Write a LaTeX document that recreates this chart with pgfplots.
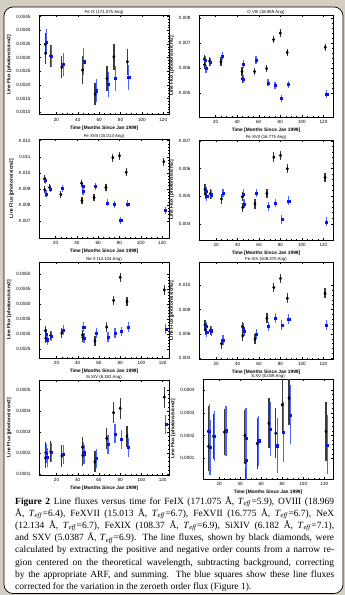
\documentclass[border=0pt]{standalone}
\usepackage{fontspec}
\setmainfont{Liberation Serif}
\newfontfamily\hv{Liberation Sans}
\usepackage{pgfplots}
\pgfplotsset{compat=1.18}
\definecolor{bgc}{HTML}{D4CEC2}
\definecolor{bbar}{HTML}{3A3A3A}
\definecolor{ubar}{HTML}{4A66FF}
\definecolor{umk}{HTML}{0A14F0}
\newcommand\Teff{\textit{T}\textsubscript{\textit{eff}}}
\pgfplotsset{
  ptitle/.style={extra description/.code={\node[anchor=south, inner sep=0.8pt, font=\hv\fontsize{4.3}{5}\selectfont] at (0.5,1) {#1};}},
  panel/.style={
    scale only axis, anchor=north west,
    xtick={20,40,60,80,100,120},
    minor x tick num=3, minor y tick num=4,
    tick align=inside, major tick length=2.4pt, minor tick length=1.2pt,
    every tick/.style={black, line width=0.35pt},
    axis line style={line width=0.5pt},
    scaled y ticks=false,
    /pgf/number format/assume math mode=true,
    tick label style={font=\hv\fontsize{4.6}{5}\selectfont},
    yticklabel style={/pgf/number format/fixed, /pgf/number format/fixed zerofill, xshift=-5pt},
    xlabel={Time [Months Since Jan 1999]},
    ylabel={Line Flux [photons/s/cm2]},
    label style={font=\hv\bfseries\fontsize{4.8}{5}\selectfont},
    xlabel style={inner sep=1pt},
    ylabel style={inner sep=1.5pt},
  },
  blk/.style={only marks, mark=diamond*, mark size=1.6pt, color=black, mark options={fill=black},
    error bars/.cd, y dir=both, y explicit, error mark=none,
    error bar style={line width=1.3pt, color=bbar}},
  blu/.style={only marks, mark=square*, mark size=1.05pt, color=umk, mark options={fill=umk},
    error bars/.cd, y dir=both, y explicit, error mark=none,
    error bar style={line width=1.3pt, color=ubar}},
}
\begin{document}
\begin{tikzpicture}[x=1pt,y=1pt]
\fill[bgc] (0,0) rectangle (345,-595);
\draw[fill=white, line width=0.7pt, rounded corners=9pt] (4,-7) rectangle (343,-593.5);

% ---------- Panel 1: Fe IX
\begin{axis}[panel, at={(39pt,-15pt)}, width=130pt, height=99.5pt,
  xmin=3.7, xmax=125.4, ymin=0.00092, ymax=0.00456,
  ytick={0.0010,0.0015,0.0020,0.0025,0.0030,0.0035,0.0040,0.0045},
  yticklabel style={/pgf/number format/precision=4},
  ptitle={Fe IX (171.075 Ang)}]
\addplot[blk] table[x=x,y=y,y error=e,row sep=\\]{
x y e\\ 9.6 0.00349 0.00040\\ 9.9 0.00316 0.00040\\ 14.5 0.00306 0.00040\\
25.0 0.00265 0.00040\\ 44.5 0.00255 0.00050\\ 56.2 0.00167 0.00040\\
67.3 0.00224 0.00045\\ 73.8 0.00303 0.00048\\ 86.4 0.00285 0.00048\\};
\addplot[blu] table[x=x,y=y,y error=e,row sep=\\]{
x y e\\ 10.6 0.00358 0.00045\\ 15.4 0.00306 0.00040\\ 26.4 0.00276 0.00042\\
45.6 0.00285 0.00050\\ 57.6 0.00179 0.00042\\ 68.6 0.00202 0.00045\\
75.2 0.00224 0.00045\\ 87.7 0.00228 0.00045\\};
\end{axis}

% ---------- Panel 2: O VIII
\begin{axis}[panel, at={(199pt,-15pt)}, width=134pt, height=102pt,
  xmin=4.7, xmax=128.8, ymin=0.00402, ymax=0.00813,
  ytick={0.005,0.006,0.007,0.008},
  yticklabel style={/pgf/number format/precision=3},
  ptitle={O VIII (18.969 Ang)}]
\addplot[blk] table[x=x,y=y,y error=e,row sep=\\]{
x y e\\ 9.6 0.00635 0.00018\\ 9.9 0.00613 0.00018\\ 14.5 0.00627 0.00018\\
25.0 0.00624 0.00018\\ 44.5 0.00585 0.00018\\ 44.8 0.00556 0.00018\\
56.2 0.00585 0.00015\\ 67.3 0.00597 0.00015\\ 73.8 0.00714 0.00015\\
80.0 0.00740 0.00015\\ 86.4 0.00662 0.00015\\ 121.6 0.00683 0.00015\\};
\addplot[blu] table[x=x,y=y,y error=e,row sep=\\]{
x y e\\ 10.6 0.00631 0.00016\\ 11.2 0.00597 0.00016\\ 15.4 0.00624 0.00016\\
26.4 0.00646 0.00016\\ 45.6 0.00616 0.00016\\ 45.9 0.00554 0.00016\\
57.6 0.00630 0.00016\\ 68.6 0.00540 0.00015\\ 75.2 0.00529 0.00015\\
81.2 0.00477 0.00015\\ 87.7 0.00533 0.00015\\ 123.0 0.00495 0.00015\\};
\end{axis}

% ---------- Panel 3: Fe XVII 15.013
\begin{axis}[panel, at={(39pt,-139pt)}, width=130pt, height=99pt,
  xmin=4.5, xmax=126.5, ymin=0.00594, ymax=0.0121,
  ytick={0.007,0.008,0.009,0.010,0.011,0.012},
  yticklabel style={/pgf/number format/precision=3},
  ptitle={Fe XVII (15.013 Ang)}]
\addplot[blk] table[x=x,y=y,y error=e,row sep=\\]{
x y e\\ 9.6 0.00962 0.00025\\ 9.9 0.00894 0.00022\\ 14.5 0.00908 0.00022\\
25.0 0.00865 0.00022\\ 44.5 0.00935 0.00022\\ 44.8 0.00826 0.00022\\
56.2 0.00846 0.00022\\ 67.3 0.00908 0.00022\\ 73.8 0.01094 0.00025\\
80.0 0.01106 0.00025\\ 86.4 0.01003 0.00025\\ 121.6 0.01069 0.00025\\};
\addplot[blu] table[x=x,y=y,y error=e,row sep=\\]{
x y e\\ 10.6 0.00952 0.00022\\ 11.2 0.00869 0.00022\\ 15.4 0.00900 0.00022\\
26.4 0.00904 0.00022\\ 45.6 0.00914 0.00022\\ 45.9 0.00884 0.00022\\
57.6 0.00914 0.00022\\ 68.6 0.00813 0.00022\\ 75.2 0.00803 0.00022\\
81.2 0.00704 0.00022\\ 87.7 0.00807 0.00022\\ 123.0 0.00766 0.00022\\};
\end{axis}

% ---------- Panel 4: Fe XVII 16.775
\begin{axis}[panel, at={(199pt,-140pt)}, width=134pt, height=100pt,
  xmin=4, xmax=129, ymin=0.00341, ymax=0.00703,
  ytick={0.004,0.005,0.006,0.007},
  yticklabel style={/pgf/number format/precision=3},
  ptitle={Fe XVII (16.775 Ang)}]
\addplot[blk] table[x=x,y=y,y error=e,row sep=\\]{
x y e\\ 9.6 0.00525 0.00017\\ 9.9 0.00507 0.00017\\ 14.5 0.00508 0.00017\\
25.0 0.00490 0.00017\\ 44.5 0.00498 0.00017\\ 44.8 0.00459 0.00017\\
56.2 0.00472 0.00017\\ 67.3 0.00510 0.00017\\ 73.8 0.00641 0.00017\\
80.0 0.00647 0.00017\\ 86.4 0.00599 0.00017\\ 121.6 0.00567 0.00017\\};
\addplot[blu] table[x=x,y=y,y error=e,row sep=\\]{
x y e\\ 10.6 0.00517 0.00016\\ 11.2 0.00498 0.00016\\ 15.4 0.00505 0.00016\\
26.4 0.00511 0.00016\\ 45.6 0.00508 0.00016\\ 45.9 0.00472 0.00016\\
57.6 0.00511 0.00016\\ 68.6 0.00463 0.00016\\ 75.2 0.00475 0.00016\\
81.2 0.00416 0.00016\\ 87.7 0.00483 0.00016\\ 123.0 0.00407 0.00016\\};
\end{axis}

% ---------- Panel 5: Ne X
\begin{axis}[panel, at={(39pt,-262pt)}, width=130pt, height=96pt,
  xmin=3.5, xmax=126, ymin=0.0022, ymax=0.0054,
  ytick={0.0025,0.0030,0.0035,0.0040,0.0045,0.0050},
  yticklabel style={/pgf/number format/precision=4},
  ptitle={Ne X (12.134 Ang)}]
\addplot[blk] table[x=x,y=y,y error=e,row sep=\\]{
x y e\\ 9.6 0.00311 0.00016\\ 9.9 0.00286 0.00016\\ 14.5 0.00295 0.00016\\
25.0 0.00303 0.00016\\ 44.5 0.00297 0.00016\\ 44.8 0.00289 0.00016\\
56.2 0.00277 0.00016\\ 67.3 0.00323 0.00016\\ 73.8 0.00412 0.00016\\
80.0 0.00489 0.00016\\ 86.4 0.00408 0.00016\\ 121.6 0.00447 0.00016\\};
\addplot[blu] table[x=x,y=y,y error=e,row sep=\\]{
x y e\\ 10.6 0.00300 0.00016\\ 11.2 0.00281 0.00016\\ 15.4 0.00294 0.00016\\
26.4 0.00314 0.00016\\ 45.6 0.00323 0.00016\\ 45.9 0.00286 0.00016\\
57.6 0.00303 0.00016\\ 68.6 0.00290 0.00016\\ 75.2 0.00303 0.00016\\
81.2 0.00309 0.00016\\ 87.7 0.00323 0.00016\\ 123.0 0.00317 0.00016\\};
\end{axis}

% ---------- Panel 6: Fe XIX
\begin{axis}[panel, at={(199pt,-262pt)}, width=134pt, height=97pt,
  xmin=4, xmax=129, ymin=0.00394, ymax=0.01189,
  ytick={0.004,0.006,0.008,0.010},
  yticklabel style={/pgf/number format/precision=3},
  ptitle={Fe XIX (108.370 Ang)}]
\addplot[blk] table[x=x,y=y,y error=e,row sep=\\]{
x y e\\ 9.6 0.00673 0.0004\\ 9.9 0.00633 0.0004\\ 14.5 0.00628 0.0004\\
25.0 0.00520 0.0004\\ 44.5 0.00660 0.0004\\ 44.8 0.00584 0.0004\\
56.2 0.00557 0.0004\\ 67.3 0.00728 0.0004\\ 73.8 0.00981 0.0004\\
80.0 0.01054 0.0004\\ 86.4 0.00891 0.0004\\ 121.6 0.00932 0.0004\\};
\addplot[blu] table[x=x,y=y,y error=e,row sep=\\]{
x y e\\ 10.6 0.00660 0.0004\\ 11.2 0.00611 0.0004\\ 15.4 0.00626 0.0004\\
26.4 0.00547 0.0004\\ 45.6 0.00646 0.0004\\ 45.9 0.00619 0.0004\\
57.6 0.00600 0.0004\\ 68.6 0.00660 0.0004\\ 75.2 0.00728 0.0004\\
81.2 0.00673 0.0004\\ 87.7 0.00720 0.0004\\ 123.0 0.00673 0.0004\\};
\end{axis}

% ---------- Panel 7: Si XIV
\begin{axis}[panel, at={(39pt,-380pt)}, width=130pt, height=95pt,
  xmin=3.5, xmax=126, ymin=0.0000967, ymax=0.000547,
  ytick={0.0001,0.0002,0.0003,0.0004,0.0005},
  yticklabel style={/pgf/number format/precision=4},
  ptitle={Si XIV (6.182 Ang)}]
\addplot[blk] table[x=x,y=y,y error=e,row sep=\\]{
x y e\\ 9.6 0.000178 0.00005\\ 9.9 0.000202 0.00005\\ 14.5 0.000206 0.00005\\
25.0 0.000187 0.00005\\ 44.5 0.000229 0.00005\\ 44.8 0.000190 0.00005\\
56.2 0.000159 0.00005\\ 67.3 0.000270 0.00005\\ 73.8 0.000392 0.00005\\
80.0 0.000413 0.00005\\ 86.4 0.000281 0.00005\\ 121.6 0.000466 0.00005\\};
\addplot[blu] table[x=x,y=y,y error=e,row sep=\\]{
x y e\\ 10.6 0.000198 0.000045\\ 11.2 0.000181 0.000045\\ 15.4 0.000205 0.000045\\
26.4 0.000194 0.000045\\ 45.6 0.000206 0.000045\\ 45.9 0.000194 0.000045\\
57.6 0.000175 0.000045\\ 68.6 0.000241 0.000045\\ 75.2 0.000292 0.000045\\
81.2 0.000265 0.000045\\ 87.7 0.000229 0.000045\\ 123.0 0.000337 0.000045\\};
\end{axis}

% ---------- Panel 8: S XV
\begin{axis}[panel, at={(203pt,-379pt)}, width=130pt, height=100pt,
  xmin=4.6, xmax=128.3, ymin=0.000009, ymax=0.000448,
  ytick={0.0001,0.0002,0.0003,0.0004},
  yticklabel style={/pgf/number format/precision=4},
  ptitle={S XV (5.039 Ang)}]
\addplot[blk] table[x=x,y=y,y error=e,row sep=\\]{
x y e\\ 9.6 0.000218 0.00011\\ 9.9 0.000152 0.00011\\ 14.5 0.000196 0.00010\\
25.0 0.000215 0.00010\\ 44.5 0.000200 0.00011\\ 44.8 0.000082 0.00011\\
56.2 0.000165 0.00011\\ 67.3 0.000254 0.00011\\ 73.8 0.000210 0.00011\\
80.0 0.000335 0.00012\\ 86.4 0.000364 0.00012\\ 121.6 0.000218 0.00013\\};
\addplot[blu] table[x=x,y=y,y error=e,row sep=\\]{
x y e\\ 10.6 0.000218 0.00012\\ 11.2 0.000148 0.00012\\ 15.4 0.000196 0.00011\\
26.4 0.000221 0.00011\\ 45.6 0.000189 0.00013\\ 45.9 0.000093 0.00013\\
57.6 0.000177 0.00011\\ 68.6 0.000228 0.00012\\ 75.2 0.000155 0.00012\\
81.2 0.000215 0.00013\\ 87.7 0.000291 0.00013\\ 123.0 0.000159 0.00013\\};
\end{axis}

% ---------- Caption
\begin{scope}[every node/.style={anchor=base west, inner sep=0pt, font=\fontsize{9.5}{12}\selectfont}]
\node at (15,-504.0) {\makebox[319pt][s]{\textbf{Figure 2} Line fluxes versus time for FeIX (171.075 Å, \Teff=5.9), OVIII (18.969}};
\node at (15,-516.2) {\makebox[319pt][s]{Å, \Teff=6.4), FeXVII (15.013 Å, \Teff=6.7), FeXVII (16.775 Å, \Teff=6.7), NeX}};
\node at (15,-528.4) {\makebox[319pt][s]{(12.134 Å, \Teff=6.7), FeXIX (108.37 Å, \Teff=6.9), SiXIV (6.182 Å, \Teff=7.1),}};
\node at (15,-540.6) {\makebox[319pt][s]{and SXV (5.0387 Å, \Teff=6.9). The line fluxes, shown by black diamonds, were}};
\node at (15,-552.8) {\makebox[319pt][s]{calculated by extracting the positive and negative order counts from a narrow re-}};
\node at (15,-565.0) {\makebox[319pt][s]{gion centered on the theoretical wavelength, subtracting background, correcting}};
\node at (15,-577.2) {\makebox[319pt][s]{by the appropriate ARF, and summing. The blue squares show these line fluxes}};
\node at (15,-589.4) {\makebox[319pt][l]{corrected for the variation in the zeroeth order flux (Figure 1).}};
\end{scope}
\pgfresetboundingbox
\useasboundingbox (0,0) rectangle (345,-595);
\end{tikzpicture}
\end{document}
